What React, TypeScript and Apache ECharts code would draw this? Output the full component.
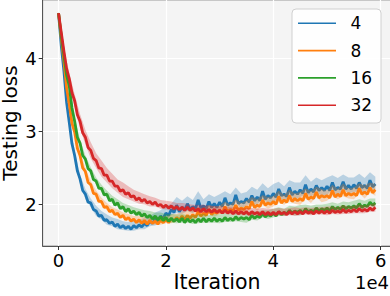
import React, { useEffect, useRef } from "react";
import * as echarts from "echarts";

// Sampling grid: one reading every 500 iterations, 0 .. 59000
const ITER_STEP = 500;
const SAMPLE_COUNT = 119;
const iterations: number[] = Array.from({ length: SAMPLE_COUNT }, (_, i) => i * ITER_STEP);

const seriesNames = ["4", "8", "16", "32"];
const seriesColors = ["#1f77b4", "#ff7f0e", "#2ca02c", "#d62728"];
const bandColors = ["rgba(31,119,180,0.28)", "rgba(255,127,14,0.28)", "rgba(44,160,44,0.28)", "rgba(214,39,40,0.28)"];

const xTickValues = [0, 20000, 40000, 60000];
const yTickValues = [2, 3, 4];

// Testing loss, every 500 iterations
const loss4 = [
  4.62, 4.18, 3.83, 3.40, 3.12, 2.83, 2.67, 2.46, 2.35, 2.19,
  2.14, 2.03, 2.02, 1.93, 1.91, 1.84, 1.85, 1.78, 1.79, 1.74,
  1.76, 1.70, 1.73, 1.68, 1.71, 1.67, 1.70, 1.66, 1.71, 1.68,
  1.72, 1.69, 1.74, 1.71, 1.77, 1.74, 1.80, 1.77, 1.84, 1.81,
  1.88, 1.85, 1.93, 1.89, 1.99, 1.90, 1.96, 1.92, 2.01, 1.93,
  1.97, 1.94, 2.06, 1.95, 1.98, 1.94, 2.04, 1.96, 2.01, 1.96,
  2.03, 1.97, 2.09, 1.99, 2.02, 2.00, 2.13, 2.01, 2.04, 2.02,
  2.08, 2.03, 2.12, 2.05, 2.10, 2.05, 2.18, 2.07, 2.12, 2.09,
  2.15, 2.10, 2.21, 2.12, 2.14, 2.11, 2.23, 2.13, 2.18, 2.14,
  2.20, 2.15, 2.27, 2.16, 2.21, 2.17, 2.26, 2.19, 2.23, 2.19,
  2.25, 2.19, 2.30, 2.20, 2.23, 2.21, 2.31, 2.21, 2.26, 2.21,
  2.27, 2.22, 2.30, 2.23, 2.26, 2.22, 2.33, 2.24, 2.28,
];
const loss8 = [
  4.62, 4.28, 3.97, 3.60, 3.37, 3.11, 2.99, 2.77, 2.67, 2.50,
  2.45, 2.30, 2.27, 2.15, 2.14, 2.04, 2.04, 1.96, 1.97, 1.90,
  1.92, 1.86, 1.88, 1.82, 1.85, 1.79, 1.82, 1.77, 1.80, 1.75,
  1.79, 1.74, 1.78, 1.73, 1.78, 1.74, 1.77, 1.73, 1.78, 1.75,
  1.79, 1.75, 1.80, 1.77, 1.82, 1.78, 1.84, 1.79, 1.85, 1.81,
  1.86, 1.82, 1.90, 1.84, 1.88, 1.85, 1.93, 1.86, 1.90, 1.88,
  1.92, 1.88, 1.97, 1.90, 1.93, 1.91, 1.99, 1.92, 1.95, 1.93,
  1.97, 1.94, 2.04, 1.96, 1.99, 1.97, 2.06, 1.99, 2.02, 2.00,
  2.04, 2.00, 2.11, 2.02, 2.06, 2.03, 2.12, 2.04, 2.08, 2.05,
  2.08, 2.05, 2.15, 2.07, 2.10, 2.08, 2.17, 2.09, 2.12, 2.10,
  2.12, 2.09, 2.19, 2.10, 2.14, 2.11, 2.20, 2.12, 2.15, 2.13,
  2.15, 2.12, 2.22, 2.14, 2.17, 2.14, 2.23, 2.16, 2.20,
];
const loss16 = [
  4.62, 4.31, 4.04, 3.77, 3.62, 3.32, 3.14, 2.92, 2.84, 2.67,
  2.62, 2.49, 2.46, 2.34, 2.32, 2.22, 2.22, 2.13, 2.14, 2.05,
  2.07, 1.99, 2.02, 1.94, 1.97, 1.90, 1.94, 1.88, 1.91, 1.86,
  1.89, 1.84, 1.87, 1.82, 1.85, 1.80, 1.84, 1.79, 1.83, 1.78,
  1.82, 1.77, 1.81, 1.77, 1.80, 1.76, 1.81, 1.75, 1.80, 1.76,
  1.79, 1.75, 1.80, 1.76, 1.81, 1.76, 1.80, 1.77, 1.81, 1.77,
  1.80, 1.77, 1.82, 1.78, 1.81, 1.78, 1.83, 1.79, 1.82, 1.80,
  1.82, 1.79, 1.85, 1.81, 1.84, 1.82, 1.87, 1.83, 1.86, 1.84,
  1.88, 1.84, 1.90, 1.86, 1.89, 1.87, 1.92, 1.88, 1.91, 1.89,
  1.92, 1.88, 1.94, 1.90, 1.92, 1.90, 1.95, 1.91, 1.94, 1.92,
  1.95, 1.91, 1.97, 1.93, 1.96, 1.93, 1.98, 1.94, 1.97, 1.95,
  1.98, 1.95, 2.01, 1.96, 1.99, 1.97, 2.03, 1.99, 2.02,
];
const loss32 = [
  4.62, 4.36, 4.10, 3.86, 3.72, 3.53, 3.42, 3.23, 3.14, 2.98,
  2.92, 2.78, 2.74, 2.63, 2.60, 2.50, 2.49, 2.40, 2.40, 2.32,
  2.32, 2.25, 2.25, 2.18, 2.20, 2.14, 2.16, 2.10, 2.12, 2.06,
  2.09, 2.04, 2.07, 2.02, 2.04, 2.00, 2.03, 1.98, 2.00, 1.96,
  1.99, 1.95, 1.98, 1.94, 1.97, 1.93, 1.96, 1.92, 1.96, 1.92,
  1.95, 1.91, 1.94, 1.90, 1.94, 1.90, 1.93, 1.89, 1.93, 1.89,
  1.92, 1.88, 1.92, 1.88, 1.91, 1.87, 1.91, 1.87, 1.90, 1.87,
  1.90, 1.86, 1.90, 1.87, 1.89, 1.86, 1.90, 1.86, 1.89, 1.86,
  1.89, 1.86, 1.90, 1.87, 1.89, 1.86, 1.90, 1.87, 1.90, 1.87,
  1.90, 1.87, 1.91, 1.88, 1.90, 1.87, 1.91, 1.88, 1.91, 1.88,
  1.91, 1.88, 1.92, 1.89, 1.91, 1.89, 1.93, 1.89, 1.92, 1.90,
  1.93, 1.90, 1.94, 1.91, 1.93, 1.91, 1.95, 1.92, 1.96,
];

// Half-width of the shaded band, read every 1000 iterations
const spread4 = [
  0.02, 0.05, 0.06, 0.07, 0.06, 0.07, 0.06, 0.07, 0.06, 0.07,
  0.06, 0.07, 0.06, 0.06, 0.07, 0.06, 0.08, 0.07, 0.09, 0.08,
  0.10, 0.08, 0.11, 0.09, 0.10, 0.09, 0.12, 0.09, 0.10, 0.09,
  0.11, 0.09, 0.12, 0.10, 0.11, 0.09, 0.12, 0.10, 0.11, 0.10,
  0.13, 0.10, 0.11, 0.10, 0.12, 0.10, 0.13, 0.10, 0.11, 0.10,
  0.12, 0.10, 0.13, 0.10, 0.11, 0.10, 0.12, 0.10, 0.11, 0.10,
];
const spread8 = [
  0.02, 0.04, 0.05, 0.05, 0.05, 0.05, 0.05, 0.05, 0.05, 0.05,
  0.04, 0.05, 0.04, 0.05, 0.04, 0.05, 0.05, 0.05, 0.05, 0.06,
  0.05, 0.06, 0.05, 0.06, 0.06, 0.07, 0.06, 0.07, 0.06, 0.07,
  0.06, 0.07, 0.06, 0.08, 0.07, 0.08, 0.06, 0.08, 0.07, 0.08,
  0.07, 0.08, 0.07, 0.08, 0.07, 0.09, 0.07, 0.08, 0.07, 0.09,
  0.07, 0.08, 0.07, 0.09, 0.07, 0.08, 0.07, 0.09, 0.07, 0.08,
];
const spread16 = [
  0.02, 0.04, 0.05, 0.05, 0.05, 0.05, 0.05, 0.05, 0.05, 0.05,
  0.05, 0.05, 0.05, 0.05, 0.05, 0.05, 0.05, 0.06, 0.05, 0.06,
  0.05, 0.06, 0.06, 0.06, 0.05, 0.06, 0.06, 0.06, 0.05, 0.06,
  0.06, 0.06, 0.05, 0.06, 0.06, 0.07, 0.06, 0.06, 0.05, 0.06,
  0.06, 0.06, 0.05, 0.06, 0.06, 0.07, 0.06, 0.06, 0.05, 0.06,
  0.06, 0.06, 0.05, 0.06, 0.06, 0.07, 0.06, 0.06, 0.05, 0.06,
];
const spread32 = [
  0.02, 0.06, 0.08, 0.09, 0.10, 0.10, 0.11, 0.10, 0.11, 0.10,
  0.10, 0.09, 0.10, 0.09, 0.08, 0.08, 0.07, 0.07, 0.06, 0.06,
  0.06, 0.06, 0.05, 0.06, 0.05, 0.05, 0.05, 0.06, 0.05, 0.05,
  0.05, 0.05, 0.05, 0.05, 0.05, 0.05, 0.05, 0.05, 0.05, 0.05,
  0.05, 0.05, 0.05, 0.05, 0.06, 0.05, 0.05, 0.05, 0.05, 0.05,
  0.06, 0.05, 0.05, 0.06, 0.05, 0.05, 0.06, 0.05, 0.05, 0.06,
];

const losses = [loss4, loss8, loss16, loss32];
const spreads = [spread4, spread8, spread16, spread32];

const FONT = "DejaVu Sans";

export default function App() {
  const ref = useRef<HTMLDivElement>(null);

  useEffect(() => {
    if (!ref.current) return;
    const chart = echarts.init(ref.current, undefined, { renderer: "svg" });

    const series: any[] = [];
    seriesNames.forEach((name, k) => {
      const mean = losses[k];
      const spread = spreads[k];
      series.push({
        type: "custom",
        name: name + " band",
        silent: true,
        clip: true,
        z: 2 + k * 2,
        data: [[iterations[0], mean[0]]],
        renderItem: (_params: any, api: any) => {
          const upper: number[][] = [];
          const lower: number[][] = [];
          spread.forEach((s, j) => {
            const x = iterations[2 * j];
            const m = mean[2 * j];
            upper.push(api.coord([x, m + s]));
            lower.push(api.coord([x, m - s]));
          });
          return {
            type: "polygon",
            shape: { points: upper.concat(lower.reverse()) },
            style: { fill: bandColors[k], stroke: "none" },
          };
        },
      });
      series.push({
        type: "line",
        name,
        z: 3 + k * 2,
        showSymbol: false,
        symbol: "none",
        data: iterations.map((x, i) => [x, mean[i]]),
        lineStyle: { color: seriesColors[k], width: 2.8 },
        itemStyle: { color: seriesColors[k] },
      });
    });

    const legendTop = 9;
    const legendGap = 27.3;
    const legendGraphics: any[] = [
      {
        type: "rect",
        shape: { x: 292, y: legendTop, width: 89, height: 114, r: 4 },
        style: { fill: "rgba(255,255,255,0.85)", stroke: "#d0d0d0", lineWidth: 1 },
        z: 100,
      },
    ];
    seriesNames.forEach((name, k) => {
      const y = 23.3 + k * legendGap;
      legendGraphics.push({
        type: "line",
        shape: { x1: 298, y1: y, x2: 336, y2: y },
        style: { stroke: seriesColors[k], lineWidth: 1.6 },
        z: 101,
      });
      legendGraphics.push({
        type: "text",
        x: 350.5,
        y: y,
        style: {
          text: name,
          font: `17px "${FONT}"`,
          fill: "#000",
          align: "left",
          verticalAlign: "middle",
        },
        z: 101,
      });
    });
    legendGraphics.push({
      type: "text",
      x: 389,
      y: 282,
      style: {
        text: "1e4",
        font: `18px "${FONT}"`,
        fill: "#000",
        align: "right",
        verticalAlign: "middle",
      },
      z: 101,
    });

    chart.setOption({
      animation: false,
      backgroundColor: "#ffffff",
      grid: {
        left: 42.7,
        top: 0,
        width: 348.5,
        height: 246,
        show: true,
        backgroundColor: "#f4f4f4",
        borderColor: "#999",
        borderWidth: 1,
        containLabel: false,
        outerBoundsMode: "none",
      },
      xAxis: {
        type: "value",
        min: -2950,
        max: 61950,
        name: "Iteration",
        nameLocation: "middle",
        nameGap: 25,
        nameMoveOverlap: false,
        nameTextStyle: { fontFamily: FONT, fontSize: 20.5, color: "#000" },
        axisLine: { show: true, onZero: false, lineStyle: { color: "#555", width: 1 } },
        axisTick: { show: true, customValues: xTickValues, length: 4, lineStyle: { color: "#333" } },
        axisLabel: {
          customValues: xTickValues,
          formatter: (v: number) => String(v / 10000),
          fontFamily: FONT,
          fontSize: 18,
          color: "#000",
          margin: 5,
          hideOverlap: false,
          showMaxLabel: true,
        },
        splitLine: { show: true, lineStyle: { color: "#ffffff", width: 1.2 } },
      },
      yAxis: {
        type: "value",
        min: 1.43,
        max: 4.8,
        name: "Testing loss",
        nameLocation: "middle",
        nameRotate: 90,
        nameGap: 23,
        nameMoveOverlap: false,
        nameTextStyle: { fontFamily: FONT, fontSize: 20, color: "#000" },
        axisLine: { show: true, onZero: false, lineStyle: { color: "#555", width: 1 } },
        axisTick: { show: true, customValues: yTickValues, length: 4, lineStyle: { color: "#333" } },
        axisLabel: {
          customValues: yTickValues,
          formatter: (v: number) => String(v),
          fontFamily: FONT,
          fontSize: 18,
          color: "#000",
          margin: 6,
        },
        splitLine: { show: true, lineStyle: { color: "#ffffff", width: 1.2 } },
      },
      graphic: legendGraphics,
      series,
    });

    return () => {
      chart.dispose();
    };
  }, []);

  return (
    <div
      ref={ref}
      style={{ position: "fixed", left: 0, top: 0, width: 390, height: 296, background: "#fff" }}
    />
  );
}
